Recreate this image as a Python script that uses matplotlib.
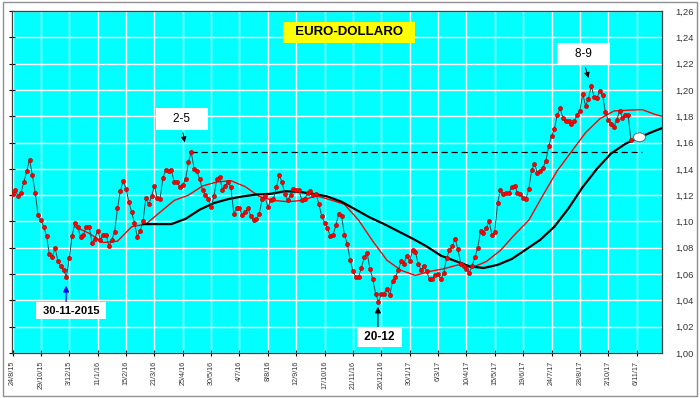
import numpy as np
import matplotlib
matplotlib.use("Agg")
import matplotlib.pyplot as plt
from matplotlib.patches import Ellipse, Rectangle

plt.rcParams["font.family"] = ["Liberation Sans", "DejaVu Sans"]

# tick labels on the category axis, one every 10 points
tick_labels = ["24/8/15", "29/10/15", "3/12/15", "11/1/16", "15/2/16", "21/3/16",
               "25/4/16", "30/5/16", "4/7/16", "8/8/16", "12/9/16", "17/10/16",
               "21/11/16", "26/12/16", "30/1/17", "6/3/17", "10/4/17", "15/5/17",
               "19/6/17", "24/7/17", "28/8/17", "2/10/17", "6/11/17"]

# EUR/USD closes (~every 2.5 trading days)
close = [
    1.121, 1.124, 1.119, 1.122, 1.130, 1.138, 1.147, 1.135, 1.122, 1.105,
    1.101, 1.096, 1.089, 1.075, 1.073, 1.080, 1.070, 1.066, 1.063, 1.058,
    1.072, 1.089, 1.099, 1.096, 1.088, 1.090, 1.096, 1.096, 1.084, 1.087,
    1.093, 1.086, 1.090, 1.090, 1.081, 1.086, 1.092, 1.110, 1.123, 1.131,
    1.125, 1.115, 1.107, 1.099, 1.088, 1.093, 1.100, 1.118, 1.113, 1.119,
    1.127, 1.118, 1.117, 1.133, 1.139, 1.138, 1.139, 1.130, 1.130, 1.126,
    1.128, 1.132, 1.145, 1.153, 1.140, 1.138, 1.132, 1.124, 1.120, 1.117,
    1.111, 1.119, 1.132, 1.134, 1.124, 1.127, 1.130, 1.126, 1.106, 1.110,
    1.110, 1.105, 1.107, 1.110, 1.104, 1.101, 1.102, 1.106, 1.117, 1.119,
    1.111, 1.116, 1.117, 1.126, 1.135, 1.130, 1.121, 1.116, 1.120, 1.125,
    1.124, 1.124, 1.116, 1.117, 1.122, 1.123, 1.120, 1.121, 1.113, 1.104,
    1.099, 1.095, 1.089, 1.090, 1.097, 1.106, 1.104, 1.090, 1.083, 1.071,
    1.062, 1.058, 1.058, 1.065, 1.073, 1.076, 1.064, 1.056, 1.045, 1.039,
    1.045, 1.045, 1.049, 1.044, 1.055, 1.058, 1.063, 1.070, 1.068, 1.074,
    1.070, 1.078, 1.077, 1.068, 1.063, 1.066, 1.062, 1.056, 1.056, 1.059,
    1.060, 1.056, 1.061, 1.072, 1.078, 1.081, 1.087, 1.079, 1.068, 1.066,
    1.064, 1.061, 1.066, 1.073, 1.080, 1.093, 1.091, 1.095, 1.100, 1.090,
    1.092, 1.114, 1.124, 1.121, 1.122, 1.122, 1.126, 1.127, 1.122, 1.121,
    1.118, 1.117, 1.125, 1.139, 1.144, 1.137, 1.138, 1.141, 1.146, 1.157,
    1.165, 1.170, 1.181, 1.186, 1.179, 1.176, 1.176, 1.174, 1.176, 1.181,
    1.184, 1.197, 1.188, 1.193, 1.203, 1.195, 1.194, 1.199, 1.196, 1.183,
    1.177, 1.174, 1.172, 1.177, 1.184, 1.179, 1.181, 1.181, 1.162,
]

# short moving average (red), sampled along the axis
red_idx = list(range(22, 228, 5)) + [229]
red_val = [1.096, 1.091, 1.084, 1.085, 1.096, 1.098, 1.107, 1.116, 1.120, 1.127,
           1.130, 1.131, 1.1265, 1.119, 1.116, 1.115, 1.116, 1.1195, 1.1165, 1.113,
           1.101, 1.085, 1.0705, 1.0628, 1.059, 1.062, 1.064, 1.067, 1.065, 1.0695,
           1.078, 1.090, 1.101, 1.120, 1.1385, 1.153, 1.1675, 1.178, 1.184, 1.1846,
           1.185, 1.181, 1.180]

# long moving average (black)
black_idx = list(range(46, 227, 5)) + [229]
black_val = [1.098, 1.098, 1.098, 1.102, 1.109, 1.114, 1.117, 1.119, 1.1205, 1.121,
             1.123, 1.1225, 1.121, 1.119, 1.115, 1.109, 1.103, 1.098, 1.0925, 1.087,
             1.081, 1.074, 1.070, 1.066, 1.0646, 1.067, 1.0715, 1.0787, 1.086, 1.096,
             1.110, 1.1262, 1.140, 1.1517, 1.159, 1.164, 1.1685, 1.171]

peak_idx = 63          # 2-5 high, start of the dashed line
circle_idx = 221       # white marker on the long average

x = np.arange(len(close))

fig = plt.figure(figsize=(7.0, 3.98), dpi=100)
ax = fig.add_axes([12 / 700, 1 - 353 / 398, 650 / 700, 342 / 398])
ax.set_facecolor("#00FFFF")

ax.set_xlim(-0.18, 228.95)
ax.set_ylim(1.00, 1.26)
yt = np.round(np.arange(1.00, 1.261, 0.02), 2)
ax.set_yticks(yt)
ax.set_yticklabels([f"{v:.2f}".replace(".", ",") for v in yt])
ax.set_xticks(np.arange(0, 10 * len(tick_labels), 10))
ax.set_xticklabels(tick_labels, rotation=90)

ax.grid(True, color="white", lw=1.0)
ax.set_axisbelow(True)
ax.yaxis.tick_right()
ax.tick_params(axis="y", which="both", right=False, left=True, direction="inout",
               length=5, labelsize=6.8, labelcolor="#333333", pad=7)
ax.tick_params(axis="x", direction="inout", length=5, labelsize=5.2,
               labelcolor="#333333", pad=3)
for s in ax.spines.values():
    s.set_color("#404040")
    s.set_linewidth(0.9)

ax.plot(red_idx, red_val, color="red", lw=1.0, zorder=3)
ax.plot(black_idx, black_val, color="black", lw=1.6, zorder=3)
ax.plot(x, close, color="#1f4f4f", lw=0.7, marker="o", ms=3.0,
        mfc="red", mec="#b00000", mew=0.4, zorder=4)

ax.hlines(close[peak_idx], peak_idx, 222, colors="black", linestyles=(0, (5, 3)),
          lw=0.9, zorder=2)

ax.add_patch(Ellipse((circle_idx, black_val[-3]), 4.3, 0.0068, facecolor="white",
                     edgecolor="#707070", lw=0.8, zorder=5))

ax.text(118.6, 1.2437, "  EURO-DOLLARO  ", ha="center", va="center", fontsize=9.5,
        fontweight="bold", bbox=dict(boxstyle="square,pad=0.35", fc="#FFFF00", ec="none"))

box = dict(boxstyle="square,pad=0.4", fc="white", ec="none")
arrow_k = dict(arrowstyle="-|>", color="black", lw=0.7, mutation_scale=8)
ax.annotate("    ", xy=(60.8, 1.158), xytext=(56.7, 1.1739), arrowprops=arrow_k)
ax.text(59.7, 1.1779, "    2-5    ", ha="center", va="center", fontsize=8.5, bbox=box)
ax.annotate("    ", xy=(203.3, 1.207), xytext=(198.0, 1.2233), arrowprops=arrow_k)
ax.text(201.3, 1.2273, "    8-9    ", ha="center", va="center", fontsize=8.5, bbox=box)

ax.annotate("", xy=(18.9, 1.0532), xytext=(18.9, 1.037),
            arrowprops=dict(arrowstyle="-|>", color="blue", lw=0.8, mutation_scale=9))
ax.text(20.6, 1.0323, " 30-11-2015 ", ha="center", va="center", fontsize=8,
        fontweight="bold", bbox=dict(boxstyle="square,pad=0.3", fc="white", ec="none"))
ax.annotate("", xy=(128.8, 1.0373), xytext=(128.8, 1.018),
            arrowprops=dict(arrowstyle="-|>", color="black", lw=0.8, mutation_scale=9))
ax.text(129.2, 1.0122, " 20-12 ", ha="center", va="center", fontsize=8.5,
        fontweight="bold", bbox=dict(boxstyle="square,pad=0.35", fc="white", ec="none"))

fig.patches.append(Rectangle((3 / 700, 2 / 398), 694 / 700, 394 / 398, fill=False,
                             edgecolor="#909090", lw=1.0, transform=fig.transFigure))

fig.savefig("out.png", dpi=100)
